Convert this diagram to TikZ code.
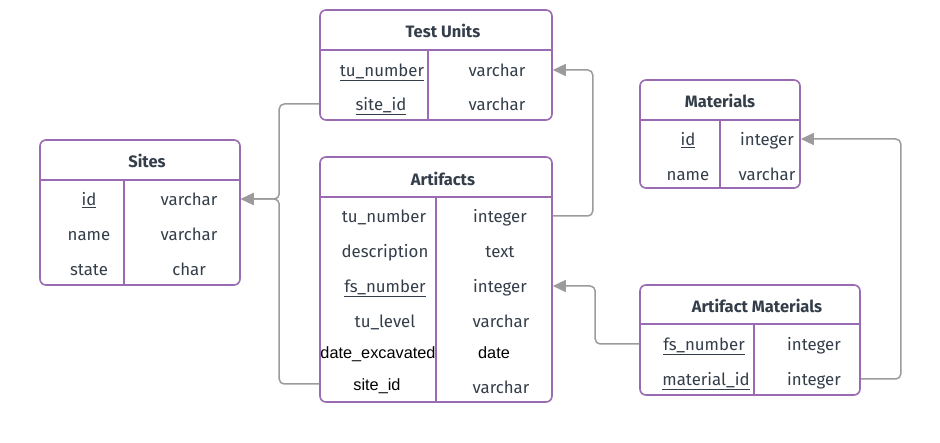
\documentclass[tikz,border=0pt]{standalone}
\usepackage{fontspec}
\setmainfont{Fira Sans}
\newfontfamily\arialfont{Liberation Sans}
\usetikzlibrary{arrows.meta}
\definecolor{tblpurple}{HTML}{9A6AB3}
\definecolor{tbltext}{HTML}{343E4A}
\definecolor{fkgrey}{HTML}{9B9B9B}
\tikzset{
  tbl/.style={draw=tblpurple, line width=1.6pt, rounded corners=6pt, inner sep=0pt, fill=white},
  rule/.style={draw=tblpurple, line width=1.6pt},
  ttl/.style={font=\fontsize{16.5}{19}\selectfont\bfseries, text=tbltext, inner sep=0pt, text height=14pt, text depth=1pt},
  fld/.style={font=\fontsize{16.8}{19}\selectfont, text=tbltext, inner sep=0pt, text height=14pt, text depth=1pt},
  afld/.style={font=\arialfont\fontsize{16.3}{19}\selectfont, text=black, inner sep=0pt, text height=14pt, text depth=1pt},
  fk/.style={draw=fkgrey, line width=1.5pt, rounded corners=5pt, -{Triangle[length=13pt, width=12pt]}},
}
\newcommand{\key}[1]{\underline{#1}}

\begin{document}
\begin{tikzpicture}[x=1pt, y=-1pt]
\useasboundingbox (0,0) rectangle (940,443);

% Test Units
\node[tbl, minimum width=232pt, minimum height=110pt] (tu) at (436,65) {};
\draw[rule] (320,50) -- (552,50); \draw[rule] (428,50) -- (428,120);
\node[ttl] (tu-title) at (443,31) {Test Units};
\node[fld] (tu-tun) at (382,70) {\key{tu\_number}};
\node[fld] (tu-site) at (381,104) {\key{site\_id}};
\node[fld] (tu-tunt) at (497,70) {varchar};
\node[fld] (tu-sitet) at (497,104) {varchar};

% Sites
\node[tbl, minimum width=200pt, minimum height=145pt] (sites) at (140,212.5) {};
\draw[rule] (40,180) -- (240,180); \draw[rule] (124,180) -- (124,285);
\node[ttl] (sites-title) at (147,161) {Sites};
\node[fld] (sites-id) at (89,199) {\key{id}};
\node[fld] (sites-name) at (89,234) {name};
\node[fld] (sites-state) at (89,269) {state};
\node[fld] (sites-idt) at (189,199) {varchar};
\node[fld] (sites-namet) at (189,234) {varchar};
\node[fld] (sites-statet) at (189,269) {char};

% Artifacts
\node[tbl, minimum width=232pt, minimum height=245pt] (art) at (436,279.5) {};
\draw[rule] (320,197) -- (552,197); \draw[rule] (436,197) -- (436,402);
\node[ttl] (art-title) at (443,179) {Artifacts};
\node[fld] (art-tun) at (384,216) {tu\_number};
\node[fld] (art-desc) at (385,251) {description};
\node[fld] (art-fs) at (385,286) {\key{fs\_number}};
\node[fld] (art-lvl) at (385,321) {tu\_level};
\node[afld] (art-date) at (378,352) {date\_excavated};
\node[afld] (art-site) at (377,384) {site\_id};
\node[fld] (art-tunt) at (500,216) {integer};
\node[fld] (art-desct) at (500,251) {text};
\node[fld] (art-fst) at (500,286) {integer};
\node[fld] (art-lvlt) at (501,321) {varchar};
\node[afld] (art-datet) at (494,352) {date};
\node[fld] (art-sitet) at (501,387) {varchar};

% Materials
\node[tbl, minimum width=160pt, minimum height=108pt] (mat) at (720,134) {};
\draw[rule] (640,120) -- (800,120); \draw[rule] (720,120) -- (720,188);
\node[ttl] (mat-title) at (720,101) {Materials};
\node[fld] (mat-id) at (688,139) {\key{id}};
\node[fld] (mat-name) at (688,174) {name};
\node[fld] (mat-idt) at (767,139) {integer};
\node[fld] (mat-namet) at (767,174) {varchar};

% Artifact Materials
\node[tbl, minimum width=220pt, minimum height=110pt] (am) at (750,340) {};
\draw[rule] (640,324) -- (860,324); \draw[rule] (754,324) -- (754,395);
\node[ttl] (am-title) at (757,306) {Artifact Materials};
\node[fld] (am-fs) at (704,344) {\key{fs\_number}};
\node[fld] (am-mat) at (706,379) {\key{material\_id}};
\node[fld] (am-fst) at (814,344) {integer};
\node[fld] (am-matt) at (814,379) {integer};

% foreign keys
\draw[fk] (tu.west |- tu-site) -- ++(-40,0) |- (sites.east |- sites-id);
\draw[fk] (art.west |- art-site) -- ++(-40,0) |- (sites.east |- sites-id);
\draw[fk] (art.east |- art-tun) -- ++(40,0) |- (tu.east |- tu-tun);
\draw[fk] (am.west |- am-fs) -- ++(-44,0) |- (art.east |- art-fs);
\draw[fk] (am.east |- am-mat) -- ++(40,0) |- (mat.east |- mat-id);
\end{tikzpicture}
\end{document}
